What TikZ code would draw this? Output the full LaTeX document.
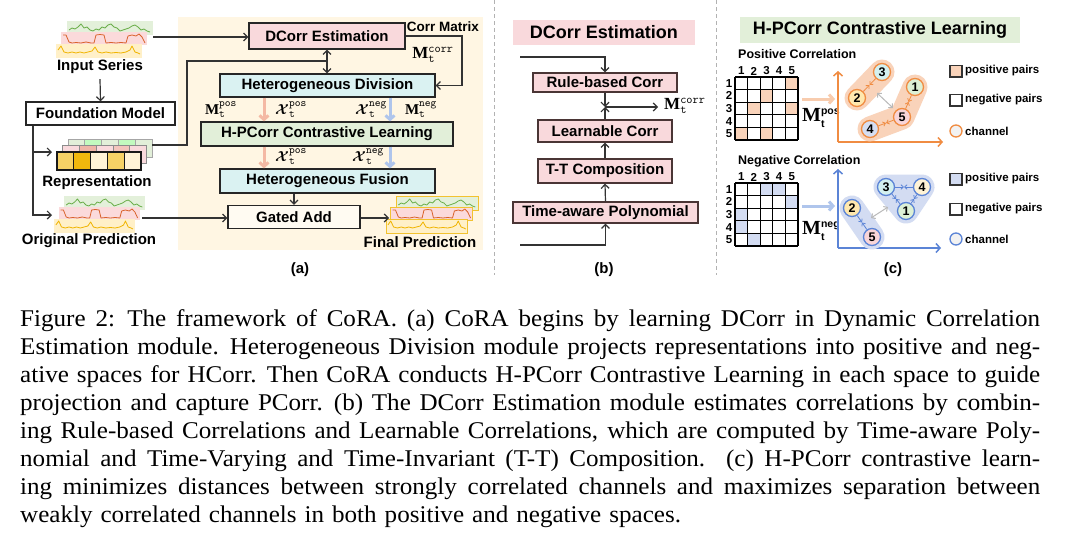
\documentclass[tikz,border=0pt]{standalone}
\usepackage[no-math]{fontspec}
\usepackage{amsmath}
\newfontfamily\sfb{Liberation Sans}
\newfontfamily\serbf{Liberation Serif}
\newfontfamily\capfont[FakeStretch=1.045]{Liberation Serif}
\usetikzlibrary{arrows.meta,calc}
\definecolor{beige}{HTML}{FFF6E3}
\definecolor{pinkf}{HTML}{F9D9DC}
\definecolor{cyanf}{HTML}{DAF2F2}
\definecolor{greenf}{HTML}{E2EFD9}
\definecolor{salmon}{HTML}{F4B9A4}
\definecolor{bluea}{HTML}{AFC5EC}
\definecolor{orangeC}{HTML}{F08C42}
\definecolor{blueC}{HTML}{5B84D6}
\definecolor{peach}{HTML}{F9D3BA}
\definecolor{lav}{HTML}{D3DCF2}
\definecolor{grf}{HTML}{E3F0DA}
\definecolor{grl}{HTML}{6AAE4A}
\definecolor{pkf}{HTML}{FBDADB}
\definecolor{pkl}{HTML}{D9622B}
\definecolor{ylf}{HTML}{FFF0C8}
\definecolor{yll}{HTML}{F0B400}
\definecolor{gold}{HTML}{F2C230}
\definecolor{chcy}{HTML}{D3F0F0}
\definecolor{chyl}{HTML}{FFE8AE}
\definecolor{chgr}{HTML}{DDF0D5}
\definecolor{chpk}{HTML}{F9D5D8}
\definecolor{chbl}{HTML}{D6DEF2}
\definecolor{chlt}{HTML}{FFF3D6}
\definecolor{bbord}{HTML}{4A3535}
\newcommand{\sups}[1]{\hbox{\sfb\bfseries\fontsize{10.5}{11}\selectfont #1}}
\newcommand{\BM}{\text{\serbf\bfseries M}}
\newcommand{\capline}[1]{\leavevmode\hbox to 1020pt{\spaceskip=0.25em plus 1em minus 0.08em\xspaceskip=0.35em plus 1em minus 0.08em #1}\par}
\tikzset{
  rectstyle/.style={},
  bx/.style={draw=black!85, line width=1.2pt, inner sep=0pt, font=\sfb\bfseries\fontsize{15}{17}\selectfont},
  bbx/.style={bx, draw=bbord, fill=pinkf},
  lbl/.style={inner sep=0pt, font=\sfb\bfseries\fontsize{15}{17}\selectfont},
  small/.style={inner sep=0pt, font=\sfb\bfseries\fontsize{11.5}{13}\selectfont},
  conn/.style={draw=black!80, line width=1.2pt},
  arr/.style={conn, -{Straight Barb[length=4pt,width=8pt]}},
  darr/.style={conn, {Straight Barb[length=4pt,width=8pt]}-{Straight Barb[length=4pt,width=8pt]}},
  thickarr/.style={line width=3pt, -{Straight Barb[length=4pt,width=9pt]}},
  ch/.style={circle, minimum size=17pt, inner sep=0pt, line width=1.3pt, font=\sfb\bfseries\fontsize{12.5}{12.5}\selectfont},
  pairarr/.style={line width=0.8pt, -{Straight Barb[length=2.5pt,width=4.5pt]}},
  grayarr/.style={gray!55, line width=1pt, {Straight Barb[length=3pt,width=6pt]}-{Straight Barb[length=3pt,width=6pt]}},
  mlab/.style={inner sep=0pt, font=\fontsize{15}{17}\selectfont},
  series/.pic={
    \path[fill=grf, rectstyle] (11,0) rectangle (97,14);
    \draw[grl, line width=0.8pt, line join=round] plot coordinates {(13,9) (16,7) (19,8) (22,6) (25,3) (28,7) (31,6) (34,9) (37,10) (40,8) (43,9) (46,6) (49,7) (52,4) (55,3) (58,6) (61,7) (64,10) (67,9) (70,8) (73,7) (76,5) (79,4) (82,6) (85,9) (88,8) (91,10) (94,11)};
    \path[fill=pkf, rectstyle] (5,11) rectangle (91,24);
    \draw[pkl, line width=0.8pt, line join=round] plot coordinates {(7,14) (10,14) (13,21) (16,22) (20,21.5) (25,22) (30,21) (35,22) (38,22) (40,14) (44,13.5) (48,14) (50,22) (55,21.5) (60,22) (65,21.5) (70,22) (72,15) (76,14) (80,15) (83,13) (86,16) (89,22)};
    \path[fill=ylf, rectstyle] (0,23) rectangle (86,37);
    \draw[yll, line width=0.8pt, line join=round] plot coordinates {(2,29) (5,25) (8,31) (12,32) (16,31) (20,32) (24,31) (28,32) (32,31) (36,30) (39,26) (42,31) (46,32) (50,31) (55,32) (60,31.5) (65,32) (70,31) (74,29) (76,25) (79,31) (82,32) (84,33)};
  }
}
\begin{document}
\begin{tikzpicture}[x=1pt,y=-1pt]
\useasboundingbox (0,0) rectangle (1080,546);
\fill[white] (0,0) rectangle (1080,546);

% separators
\draw[gray!60, line width=1pt, dash pattern=on 4pt off 3pt] (494,0) -- (494,275);
\draw[gray!60, line width=1pt, dash pattern=on 4pt off 3pt] (716,0) -- (716,275);

% ================= (a) =================
\fill[beige] (178,17) rectangle (483,250);

\pic at (56,21) {series};
\pic[xscale=0.94] at (54,196) {series};
\pic[xscale=0.95, rectstyle/.style={draw=gold, line width=1pt}] at (386,196) {series};

\node[lbl] (tin) at (100,67) {Input Series};
\node[bx, fill=white, minimum width=149pt, minimum height=23pt] (fm) at (100.5,113.5) {Foundation Model};

% representation blocks
\foreach \i/\c in {0/greenf,1/chgr!60!green!50,2/greenf,3/chgr!60!green!50,4/greenf}
  \draw[fill=\c, draw=black!35, line width=0.8pt] (68+16.8*\i,139) rectangle ++(16.8,18);
\foreach \i/\c in {0/pinkf,1/pkl!30!pinkf,2/pinkf,3/pkl!18!pinkf,4/pinkf}
  \draw[fill=\c, draw=black!45, line width=0.8pt] (62.5+16.8*\i,145.5) rectangle ++(16.8,18);
\foreach \i/\c in {0/yll!60!white,1/yll!95!white,2/chlt,3/yll!60!white,4/chlt}
  \draw[fill=\c, draw=black!90, line width=1.2pt] (57+16.8*\i,152) rectangle ++(16.8,18);

\node[lbl] (trep) at (97,183) {Representation};
\node[lbl] (top) at (89,241) {Original Prediction};
\node[lbl] (tfp) at (420,242) {Final Prediction};

\node[bx, fill=pinkf, minimum width=156pt, minimum height=26pt] (dce) at (327,36) {DCorr Estimation};
\node[bx, fill=cyanf, minimum width=215pt, minimum height=23pt] (hd) at (327.5,85.5) {Heterogeneous Division};
\node[bx, fill=greenf, minimum width=252pt, minimum height=24pt] (cl) at (327,134) {H-PCorr Contrastive Learning};
\node[bx, fill=cyanf, minimum width=215pt, minimum height=24pt] (hf) at (327.5,181) {Heterogeneous Fusion};
\node[bx, fill=white!55!beige, minimum width=132pt, minimum height=23pt] (ga) at (294,217) {Gated Add};

\node[inner sep=0pt, font=\sfb\bfseries\fontsize{13.5}{15}\selectfont] (tcm) at (443,27) {Corr Matrix};
\node[mlab, font=\fontsize{17}{19}\selectfont] (mcorr) at (433,55) {$\BM_{\mathtt{t}}^{\mathtt{corr}}$};
\node[mlab] (mpos) at (221,110) {$\BM_{\mathtt{t}}^{\mathtt{pos}}$};
\node[mlab] (xpos) at (291,110) {$\boldsymbol{\mathcal{X}}_{\mathtt{t}}^{\mathtt{pos}}$};
\node[mlab] (xneg) at (371,110) {$\boldsymbol{\mathcal{X}}_{\mathtt{t}}^{\mathtt{neg}}$};
\node[mlab] (mneg) at (421,110) {$\BM_{\mathtt{t}}^{\mathtt{neg}}$};
\node[mlab] (xpos2) at (291,157) {$\boldsymbol{\mathcal{X}}_{\mathtt{t}}^{\mathtt{pos}}$};
\node[mlab] (xneg2) at (368,157) {$\boldsymbol{\mathcal{X}}_{\mathtt{t}}^{\mathtt{neg}}$};

\coordinate (inS) at (153,37);
\coordinate (brX) at (33,0);
\coordinate (rep) at (52,152);
\coordinate (op) at (52,215);
\coordinate (repR) at (152,145);
\coordinate (jn) at (327,61);
\coordinate (xp) at (264,0);
\coordinate (xn) at (390,0);
\coordinate (opR) at (142,218);
\coordinate (fpL) at (389,218);

\draw[arr] (inS) -- (dce.west |- inS);
\draw[arr] (tin.south) ++(0,5) -- (fm.north);
\draw[arr] (fm.south -| brX) |- (op);
\draw[arr] (brX |- rep) -- (rep);
\draw[conn] (repR) -- (187,145) -- (187,61) -- (jn);
\draw[darr] (dce.south) -- (dce.south |- hd.north);
\draw[arr] (dce.east) -- (462,36) |- (hd.east);
\draw[salmon, thickarr] (hd.south -| xp) -- (cl.north -| xp);
\draw[bluea, thickarr] (hd.south -| xn) -- (cl.north -| xn);
\draw[salmon, thickarr] (cl.south -| xp) -- (hf.north -| xp);
\draw[bluea, thickarr] (cl.south -| xn) -- (hf.north -| xn);
\draw[arr] (hf.south -| ga.north) -- (ga.north);
\draw[arr] (opR) -- (opR -| ga.west);
\draw[arr] (ga.east |- fpL) -- (fpL);

\node[lbl] (la) at (300,270) {(a)};

% ================= (b) =================
\node[fill=pinkf, minimum width=182pt, minimum height=25pt, inner sep=0pt, font=\sfb\bfseries\fontsize{18}{20}\selectfont] (btitle) at (604,32.5) {DCorr Estimation};
\node[bbx, minimum width=144pt, minimum height=19pt] (rb) at (605,82.5) {Rule-based Corr};
\node[bbx, minimum width=134pt, minimum height=22pt] (lc) at (605,131) {Learnable Corr};
\node[bbx, minimum width=134pt, minimum height=24pt] (tt) at (605,171) {T-T Composition};
\node[bbx, minimum width=185pt, minimum height=21pt] (tap) at (605.5,212.5) {Time-aware Polynomial};
\coordinate (bin) at (520,57);
\coordinate (bjn) at (605,107);
\coordinate (bout) at (658,107);
\coordinate (bbot) at (520,245);
\node[mlab, anchor=west, font=\fontsize{17}{19}\selectfont] (bm) at (664,106) {$\BM_{\mathtt{t}}^{\mathtt{corr}}$};
\draw[arr] (bin) -| (rb.north);
\draw[arr] (rb.south) -- (bjn);
\draw[arr] (lc.north) -- (bjn);
\draw[arr] (bjn) -- (bout);
\draw[arr] (tt.north) -- (lc.south);
\draw[arr] (tap.north) -- (tt.south);
\draw[arr] (bbot) -| (tap.south);
\node[lbl] (lb) at (604,270) {(b)};

% ================= (c) =================
\node[fill=greenf, minimum width=280pt, minimum height=26pt, inner sep=0pt, font=\sfb\bfseries\fontsize{18}{20}\selectfont] (ctitle) at (880,30) {H-PCorr Contrastive Learning};

% positive matrix
\node[small, anchor=west, font=\sfb\bfseries\fontsize{12.5}{14}\selectfont] (tposc) at (738,54) {Positive Correlation};
\foreach \r/\c in {1/5,2/3,3/2,3/5,5/1,5/3}
  \fill[peach] (735+12.6*\c-12.6, 77+12.6*\r-12.6) rectangle ++(12.6,12.6);
\foreach \i in {0,...,5} {
  \draw[line width=1.2pt] (735+12.6*\i,77) -- (735+12.6*\i,140);
  \draw[line width=1.2pt] (735,77+12.6*\i) -- (798,77+12.6*\i);
}
\foreach \i in {1,...,5} {
  \node[small] (pcol\i) at (735+12.6*\i-6.3,71) {\i};
  \node[small] (prow\i) at (729,77+12.6*\i-6.3) {\i};
}
\node[inner sep=0pt, anchor=west, font=\fontsize{20}{22}\selectfont] (mposc) at (802,118) {$\BM_{\sups{t}}^{\sups{pos}}$};
\coordinate (pa1) at (802,99);
\coordinate (pa2) at (835,99);
\draw[peach!90!orangeC, thickarr] (pa1) -- (pa2);
\coordinate (po) at (838,142);
\coordinate (poy) at (838,71);
\coordinate (pox) at (943,142);
\draw[orangeC, line width=1.5pt, -{Straight Barb[length=4pt,width=9pt]}] (po) -- (poy);
\draw[orangeC, line width=1.5pt, -{Straight Barb[length=4pt,width=9pt]}] (po) -- (pox);

\coordinate (c3) at (882,72);
\coordinate (c2) at (857,98);
\coordinate (c1) at (915,87);
\coordinate (c5) at (902,117);
\coordinate (c4) at (870,129);
\draw[peach, line width=25pt, line cap=round, line join=round] (c2) -- (c3);
\draw[peach, line width=25pt, line cap=round, line join=round] (c4) -- (c5) -- (c1);
\node[ch, draw=orangeC, fill=chcy] (p3) at (c3) {3};
\node[ch, draw=orangeC, fill=chyl] (p2) at (c2) {2};
\node[ch, draw=orangeC, fill=chgr] (p1) at (c1) {1};
\node[ch, draw=orangeC, fill=chpk] (p5) at (c5) {5};
\node[ch, draw=orangeC, fill=chbl] (p4) at (c4) {4};
\draw[orangeC, pairarr] (p2) -- ($(p2)!0.5!(p3)$);
\draw[orangeC, pairarr] (p3) -- ($(p2)!0.5!(p3)$);
\draw[orangeC, pairarr] (p4) -- ($(p4)!0.5!(p5)$);
\draw[orangeC, pairarr] (p5) -- ($(p4)!0.5!(p5)$);
\draw[orangeC, pairarr] (p5) -- ($(p5)!0.5!(p1)$);
\draw[orangeC, pairarr] (p1) -- ($(p5)!0.5!(p1)$);
\coordinate (pg1) at (877,93);
\coordinate (pg2) at (893,108);
\draw[grayarr] (pg1) -- (pg2);

% positive legend
\draw[fill=peach, line width=1.2pt, draw=black!80] (950,65.5) rectangle (962,77);
\node[small, anchor=west] (tlp1) at (965,71) {positive pairs};
\draw[fill=white, line width=1.2pt, draw=black!80] (950,94.5) rectangle (962,106);
\node[small, anchor=west] (tlp2) at (965,100) {negative pairs};
\node[circle, draw=orangeC, fill=gray!10, line width=1.3pt, minimum size=12pt, inner sep=0pt] (lp3) at (956,131) {};
\node[small, anchor=west] (tlp3) at (965,131) {channel};

% negative matrix
\node[small, anchor=west, font=\sfb\bfseries\fontsize{12.5}{14}\selectfont] (tnegc) at (738,161) {Negative Correlation};
\foreach \r/\c in {1/3,1/4,2/5,3/1,4/1,5/2}
  \fill[lav] (735+12.6*\c-12.6, 183+12.6*\r-12.6) rectangle ++(12.6,12.6);
\foreach \i in {0,...,5} {
  \draw[line width=1.2pt] (735+12.6*\i,183) -- (735+12.6*\i,246);
  \draw[line width=1.2pt] (735,183+12.6*\i) -- (798,183+12.6*\i);
}
\foreach \i in {1,...,5} {
  \node[small] (ncol\i) at (735+12.6*\i-6.3,177) {\i};
  \node[small] (nrow\i) at (729,183+12.6*\i-6.3) {\i};
}
\node[inner sep=0pt, anchor=west, font=\fontsize{20}{22}\selectfont] (mnegc) at (802,231) {$\BM_{\sups{t}}^{\sups{neg}}$};
\coordinate (na1) at (802,206);
\coordinate (na2) at (835,206);
\draw[bluea, thickarr] (na1) -- (na2);
\coordinate (no) at (838,248);
\coordinate (noy) at (838,169);
\coordinate (nox) at (941,248);
\draw[blueC, line width=1.5pt, -{Straight Barb[length=4pt,width=9pt]}] (no) -- (noy);
\draw[blueC, line width=1.5pt, -{Straight Barb[length=4pt,width=9pt]}] (no) -- (nox);

\coordinate (d3) at (886,187);
\coordinate (d4) at (922,187);
\coordinate (d1) at (906,211);
\coordinate (d2) at (852,208);
\coordinate (d5) at (872,237);
\draw[lav, fill=lav, line width=25pt, line cap=round, line join=round] (d3) -- (d4) -- (d1) -- cycle;
\draw[lav, line width=25pt, line cap=round] (d2) -- (d5);
\node[ch, draw=blueC, fill=chcy] (q3) at (d3) {3};
\node[ch, draw=blueC, fill=chlt] (q4) at (d4) {4};
\node[ch, draw=blueC, fill=chgr] (q1) at (d1) {1};
\node[ch, draw=blueC, fill=chyl] (q2) at (d2) {2};
\node[ch, draw=blueC, fill=chpk] (q5) at (d5) {5};
\draw[blueC, pairarr] (q3) -- ($(q3)!0.5!(q4)$);
\draw[blueC, pairarr] (q4) -- ($(q3)!0.5!(q4)$);
\draw[blueC, pairarr] (q3) -- ($(q3)!0.5!(q1)$);
\draw[blueC, pairarr] (q1) -- ($(q3)!0.5!(q1)$);
\draw[blueC, pairarr] (q4) -- ($(q4)!0.5!(q1)$);
\draw[blueC, pairarr] (q1) -- ($(q4)!0.5!(q1)$);
\draw[blueC, pairarr] (q2) -- ($(q2)!0.5!(q5)$);
\draw[blueC, pairarr] (q5) -- ($(q2)!0.5!(q5)$);
\coordinate (ng1) at (871,218);
\coordinate (ng2) at (888,207);
\draw[grayarr] (ng1) -- (ng2);

% negative legend
\draw[fill=lav, line width=1.2pt, draw=black!80] (950,173.5) rectangle (962,185);
\node[small, anchor=west] (tln1) at (965,179) {positive pairs};
\draw[fill=white, line width=1.2pt, draw=black!80] (950,203.5) rectangle (962,215);
\node[small, anchor=west] (tln2) at (965,209) {negative pairs};
\node[circle, draw=blueC, fill=gray!10, line width=1.3pt, minimum size=12pt, inner sep=0pt] (ln3) at (956,239) {};
\node[small, anchor=west] (tln3) at (965,239) {channel};

\node[lbl] (lc3) at (893,270) {(c)};

% ================= caption =================
\node[anchor=base west, text width=1020pt, align=left, inner sep=0pt,
      font=\capfont\fontsize{24}{28}\selectfont] (cap) at (20,326)
{\capline{Figure 2: The framework of CoRA. (a) CoRA begins by learning DCorr in Dynamic Correlation}
\capline{Estimation module. Heterogeneous Division module projects representations into positive and neg-}
\capline{ative spaces for HCorr. Then CoRA conducts H-PCorr Contrastive Learning in each space to guide}
\capline{projection and capture PCorr. (b) The DCorr Estimation module estimates correlations by combin-}
\capline{ing Rule-based Correlations and Learnable Correlations, which are computed by Time-aware Poly-}
\capline{nomial and Time-Varying and Time-Invariant (T-T) Composition.\ \ (c) H-PCorr contrastive learn-}
\capline{ing minimizes distances between strongly correlated channels and maximizes separation between}
\leavevmode weakly correlated channels in both positive and negative spaces.};
\end{tikzpicture}
\end{document}
